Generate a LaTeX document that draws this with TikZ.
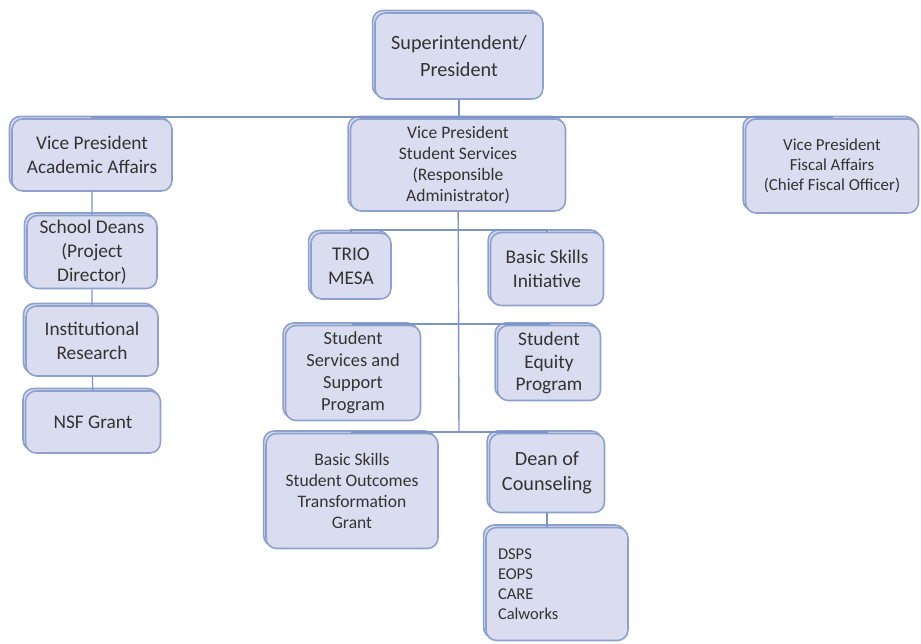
\documentclass[tikz,border=0pt]{standalone}
\usepackage{fontspec}
\setmainfont{Carlito}
\usetikzlibrary{shadows}
\definecolor{boxfill}{HTML}{D9DDEF}
\definecolor{boxline}{HTML}{8EA1CD}
\definecolor{linkcol}{HTML}{7D94C6}
\definecolor{txtcol}{HTML}{333333}
\tikzset{
  orgbox/.style={draw=boxline, fill=boxfill, line width=0.9pt, rounded corners=6pt,
    align=center, text=txtcol, inner sep=2pt,
    general shadow={draw=boxline, fill=boxfill, line width=0.9pt, shadow xshift=-1.4pt, shadow yshift=1.4pt}},
  link/.style={draw=linkcol, line width=0.8pt}
}
\begin{document}
\begin{tikzpicture}[x=0.02cm, y=-0.02cm]
    \useasboundingbox (0,0) rectangle (921,644);
    % top level
    \node[orgbox, minimum width=168*0.02cm, minimum height=86*0.02cm, font=\fontsize{11.5}{15}\selectfont] (super) at (459,56) {Superintendent/\\President};
    \node[orgbox, minimum width=160*0.02cm, minimum height=72*0.02cm, font=\fontsize{11}{13.5}\selectfont] (acad) at (92,155) {Vice President\\Academic Affairs};
    \node[orgbox, minimum width=215*0.02cm, minimum height=92*0.02cm, font=\fontsize{10}{12}\selectfont] (vpss) at (458,165) {Vice President\\Student Services\\(Responsible\\Administrator)};
    \node[orgbox, minimum width=173*0.02cm, minimum height=94*0.02cm, font=\fontsize{9.6}{11.4}\selectfont] (fisc) at (832,166) {Vice President\\Fiscal Affairs\\(Chief Fiscal Officer)};
    % academic branch
    \node[orgbox, minimum width=130*0.02cm, minimum height=73*0.02cm, font=\fontsize{11}{13.5}\selectfont] (deans) at (92,252) {School Deans\\(Project\\Director)};
    \node[orgbox, minimum width=132*0.02cm, minimum height=70*0.02cm, font=\fontsize{11}{13.5}\selectfont] (resrch) at (92,341) {Institutional\\Research};
    \node[orgbox, minimum width=135*0.02cm, minimum height=62*0.02cm, font=\fontsize{11}{13.5}\selectfont] (nsf) at (93,422) {NSF Grant};
    % student services branch
    \node[orgbox, minimum width=80*0.02cm, minimum height=66*0.02cm, font=\fontsize{11}{13.5}\selectfont] (trio) at (351,266) {TRIO\\MESA};
    \node[orgbox, minimum width=113*0.02cm, minimum height=73*0.02cm, font=\fontsize{11}{13.5}\selectfont] (bsi) at (547,269) {Basic Skills\\Initiative};
    \node[orgbox, minimum width=135*0.02cm, minimum height=95*0.02cm, font=\fontsize{10.5}{12.5}\selectfont] (sssp) at (353,373) {Student\\Services and\\Support\\Program};
    \node[orgbox, minimum width=103*0.02cm, minimum height=75*0.02cm, font=\fontsize{11}{13}\selectfont] (equity) at (549,363) {Student\\Equity\\Program};
    \node[orgbox, minimum width=172*0.02cm, minimum height=115*0.02cm, font=\fontsize{10}{12}\selectfont] (ssotg) at (352,491) {Basic Skills\\Student Outcomes\\Transformation\\Grant};
    \node[orgbox, minimum width=115*0.02cm, minimum height=79*0.02cm, font=\fontsize{11.5}{14}\selectfont] (couns) at (547,473) {Dean of\\Counseling};
    \node[orgbox, minimum width=142*0.02cm, minimum height=113*0.02cm, align=left, text width=118*0.02cm, font=\fontsize{9.4}{11.4}\selectfont] (progs) at (557,584) {DSPS\\EOPS\\CARE\\Calworks};
    % connectors
    \coordinate (bus) at (459,117);
    \draw[link] (super) -- (bus);
    \draw[link] (acad.north) |- (bus) -| (fisc.north);
    \draw[link] (bus) -- (vpss.north);
    \draw[link] (acad) -- (deans) -- (resrch) -- (nsf);
    \coordinate (trunkend) at (459,432);
    \draw[link] (vpss) -- (trunkend);
    \draw[link] (trio.north) |- (459,230) -| (bsi.north);
    \draw[link] (sssp.north) |- (459,324) -| (equity.north);
    \draw[link] (ssotg.north) -- (ssotg.north |- trunkend) -- (couns.north |- trunkend) -- (couns.north);
    \draw[link] (couns.south) -- (couns.south |- progs.north);
\end{tikzpicture}
\end{document}
